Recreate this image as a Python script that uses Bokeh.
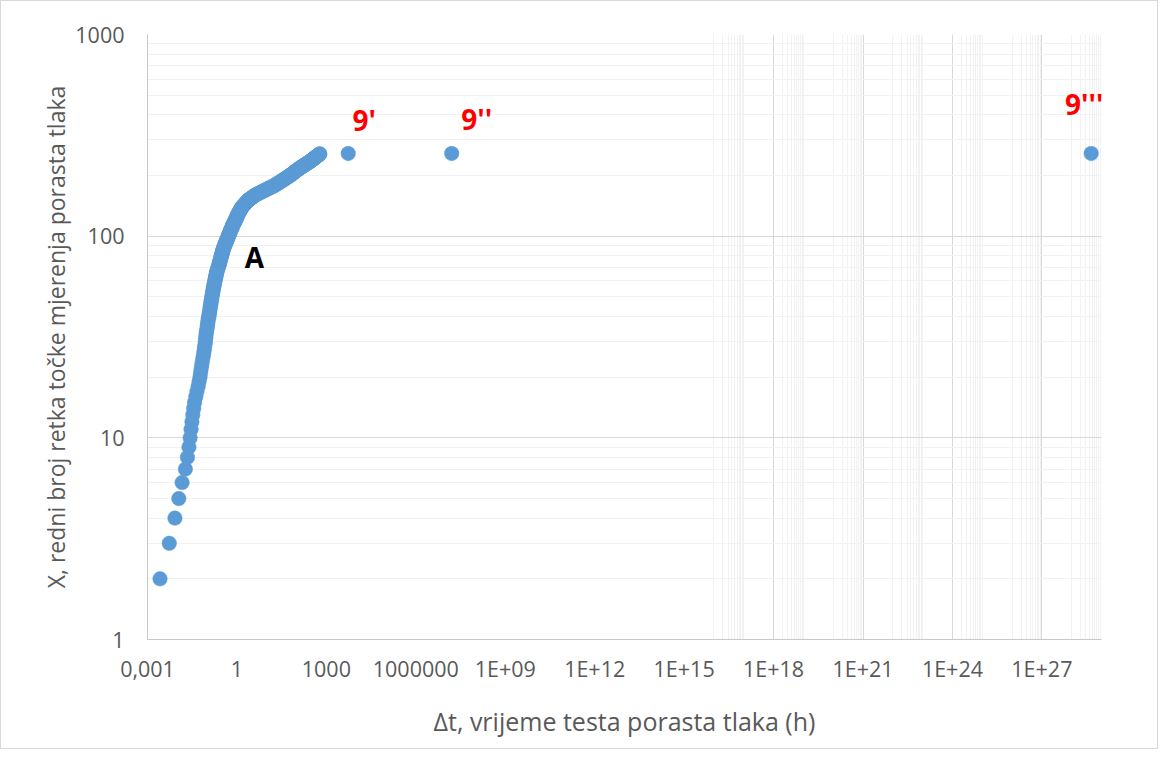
from bokeh.plotting import figure
from bokeh.models import FixedTicker, CustomJSTickFormatter, Range1d, ColumnDataSource
from bokeh.core.properties import value
from bokeh.embed import file_html
from bokeh.resources import INLINE

# ---------------- data ----------------
row_no = [
    2, 3, 4, 5, 6, 7, 8, 9, 10,
    11, 12, 13, 14, 15, 16, 17, 18, 19, 20,
    21, 22, 23, 24, 25, 26, 27, 28, 29, 30,
    31, 32, 33, 34, 35, 36, 37, 38, 39, 40,
    41, 42, 43, 44, 45, 46, 47, 48, 49, 50,
    51, 52, 53, 54, 55, 56, 57, 58, 59, 60,
    61, 62, 63, 64, 65, 66, 67, 68, 69, 70, 71, 72,
    73, 74, 75, 76, 77, 78, 79, 80, 81, 82, 83, 84, 85, 86, 87,
    88, 89, 90, 91, 92, 93, 94, 95, 96, 97,
    98, 99, 100, 101, 102, 103, 104, 105, 106, 107, 108, 109,
    110, 111, 112, 113, 114, 115, 116, 117, 118, 119, 120,
    121, 122, 123, 124, 125, 126, 127, 128, 129,
    130, 131, 132, 133, 134, 135, 136, 137, 138, 139, 140,
    141, 142, 143, 144, 145, 146, 147, 148, 149, 150,
    151, 152, 153, 154, 155, 156, 157, 158, 159, 160,
    161, 162, 163, 164, 165, 166, 167, 168, 169, 170,
    171, 172, 173, 174, 175, 176, 177,
    178, 179, 180, 181, 182, 183,
    184, 185, 186, 187, 188, 189, 190, 191,
    192, 193, 194, 195, 196, 197, 198, 199, 200,
    201, 202, 203, 204, 205, 206, 207, 208, 209, 210, 211, 212, 213,
    214, 215, 216, 217, 218, 219, 220, 221, 222, 223, 224,
    225, 226, 227, 228, 229, 230, 231, 232, 233, 234,
    235, 236, 237, 238, 239, 240, 241, 242, 243, 244, 245,
    246, 247, 248, 249, 250, 251, 252, 253, 254, 255, 256,
]

# log10 of the test time (hours) for each row
log10_dt_h = [
    -2.58, -2.27, -2.08, -1.95, -1.84, -1.73, -1.66, -1.61, -1.57,
    -1.54, -1.51, -1.48, -1.45, -1.42, -1.38, -1.34, -1.30, -1.27, -1.24,
    -1.22, -1.20, -1.18, -1.16, -1.14, -1.12, -1.10, -1.09, -1.07, -1.06,
    -1.05, -1.04, -1.03, -1.02, -1.00, -0.99, -0.98, -0.97, -0.96, -0.94,
    -0.93, -0.92, -0.91, -0.90, -0.89, -0.88, -0.87, -0.86, -0.85, -0.84,
    -0.83, -0.82, -0.81, -0.80, -0.79, -0.78, -0.77, -0.76, -0.75, -0.74,
    -0.73, -0.72, -0.71, -0.70, -0.69, -0.68, -0.67, -0.66, -0.64, -0.63, -0.62, -0.60,
    -0.59, -0.58, -0.57, -0.56, -0.55, -0.54, -0.53, -0.52, -0.51, -0.50, -0.49, -0.48, -0.47, -0.46, -0.45,
    -0.44, -0.42, -0.41, -0.40, -0.38, -0.37, -0.36, -0.35, -0.33, -0.32,
    -0.31, -0.30, -0.29, -0.28, -0.26, -0.25, -0.24, -0.23, -0.22, -0.21, -0.20, -0.18,
    -0.17, -0.16, -0.15, -0.14, -0.13, -0.12, -0.10, -0.09, -0.08, -0.07, -0.05,
    -0.04, -0.03, -0.02, -0.01, 0.00, 0.01, 0.02, 0.03, 0.04,
    0.05, 0.07, 0.08, 0.09, 0.10, 0.12, 0.13, 0.14, 0.15, 0.17, 0.18,
    0.20, 0.22, 0.24, 0.26, 0.27, 0.29, 0.31, 0.33, 0.34, 0.36,
    0.38, 0.41, 0.44, 0.46, 0.49, 0.52, 0.54, 0.57, 0.59, 0.62,
    0.66, 0.69, 0.73, 0.76, 0.80, 0.83, 0.87, 0.90, 0.94, 0.97,
    1.01, 1.04, 1.08, 1.11, 1.15, 1.18, 1.22,
    1.25, 1.27, 1.30, 1.33, 1.35, 1.38,
    1.40, 1.43, 1.45, 1.48, 1.50, 1.53, 1.55, 1.58,
    1.60, 1.62, 1.64, 1.67, 1.69, 1.71, 1.73, 1.76, 1.78,
    1.80, 1.82, 1.84, 1.86, 1.88, 1.90, 1.91, 1.93, 1.95, 1.97, 1.99, 2.00, 2.02,
    2.04, 2.06, 2.08, 2.10, 2.12, 2.14, 2.16, 2.18, 2.20, 2.22, 2.24,
    2.26, 2.28, 2.30, 2.32, 2.34, 2.36, 2.38, 2.40, 2.42, 2.44,
    2.46, 2.47, 2.49, 2.51, 2.52, 2.54, 2.56, 2.57, 2.59, 2.60, 2.62,
    2.63, 2.65, 2.66, 2.68, 2.69, 2.71, 2.72, 2.74, 2.75, 2.77, 2.78,
]

special_labels = ["9'", "9''", "9'''"]
special_dt_h = [5.4e3, 1.6e7, 4.5e28]
special_row = [257, 257, 257]

point_label = "A"
point_label_row = 100

x_ticks = [1e-3, 1, 1e3, 1e6, 1e9, 1e12, 1e15, 1e18, 1e21, 1e24, 1e27]
y_ticks = [1, 10, 100, 1000]

x_title = "\u0394t, vrijeme testa porasta tlaka (h)"
y_title = "X, redni broj retka točke mjerenja porasta tlaka"

# ---------------- styles ----------------
FONT = "Open Sans"
BLUE = "#5b9bd5"
TXT = "#595959"
GRID_MAJ = "#d9d9d9"
GRID_MIN = "#f2f2f2"
special_dx = [16, 25, -7]
special_dy = [-33, -34, -49]
label_dx, label_dy = 26, 21

assert len(row_no) == len(log10_dt_h)
dt_h = [10 ** v for v in log10_dt_h]

p = figure(width=1158, height=749, output_backend="svg", toolbar_location=None,
           x_axis_type="log", y_axis_type="log",
           x_range=Range1d(1e-3, 1e29), y_range=Range1d(1, 1000),
           min_border_left=146, min_border_right=58,
           min_border_top=33, min_border_bottom=111)
p.outline_line_color = None
p.background_fill_color = "white"
p.border_fill_color = "white"
p.styles = {"border": "1px solid #d9d9d9"}

# grids (Excel-like)
vminor = []
for d in [16, 18, 20, 22, 24, 26, 28]:
    for m in range(1, 11):
        vminor.append(m * 10.0 ** d)
p.xgrid.ticker = FixedTicker(ticks=[1e18, 1e21, 1e24, 1e27], minor_ticks=vminor)
p.xgrid.grid_line_color = GRID_MAJ
p.xgrid.minor_grid_line_color = GRID_MIN
hminor = [m * 10.0 ** k for k in range(0, 3) for m in range(2, 10)]
p.ygrid.ticker = FixedTicker(ticks=[10, 100, 1000], minor_ticks=hminor)
p.ygrid.grid_line_color = GRID_MAJ
p.ygrid.minor_grid_line_color = GRID_MIN

# axes
p.xaxis.ticker = FixedTicker(ticks=x_ticks)
p.xaxis.formatter = CustomJSTickFormatter(code="""
const e = Math.round(Math.log10(tick));
if (e < 0) return "0," + "0".repeat(-e - 1) + "1";
if (e <= 6) return Math.round(tick).toString();
return "1E+" + (e < 10 ? "0" + e : "" + e);
""")
p.yaxis.ticker = FixedTicker(ticks=y_ticks)
p.yaxis.formatter = CustomJSTickFormatter(code="return Math.round(tick).toString();")

for ax in (p.xaxis[0], p.yaxis[0]):
    ax.axis_line_color = "#c8c8c8"
    ax.major_tick_line_color = None
    ax.minor_tick_line_color = None
    ax.major_tick_out = 0
    ax.major_tick_in = 0
    ax.minor_tick_out = 0
    ax.minor_tick_in = 0
    ax.major_label_text_font = FONT
    ax.major_label_text_font_size = "21.5px"
    ax.major_label_text_color = TXT
    ax.axis_label_text_font = FONT
    ax.axis_label_text_color = TXT
    ax.axis_label_text_font_style = "normal"

p.xaxis.axis_label = x_title
p.yaxis.axis_label = y_title
p.xaxis.axis_label_text_font_size = "25px"
p.yaxis.axis_label_text_font_size = "23px"
p.xaxis.major_label_standoff = 14
p.xaxis.axis_label_standoff = 18
p.yaxis.major_label_standoff = 23
p.yaxis.axis_label_standoff = 0

# data points
src = ColumnDataSource(dict(x=dt_h, y=row_no))
p.scatter("x", "y", source=src, size=14.5, marker="circle",
          fill_color=BLUE, line_color=BLUE, line_width=0.5)
ssrc = ColumnDataSource(dict(x=special_dt_h, y=special_row, label=special_labels,
                             dx=special_dx, dy=special_dy))
p.scatter("x", "y", source=ssrc, size=14.5, marker="circle",
          fill_color=BLUE, line_color=BLUE, line_width=0.5)

# labels
p.text("x", "y", text="label", source=ssrc, x_offset="dx", y_offset="dy",
       text_font=value(FONT), text_font_style="bold", text_font_size="28px",
       text_color="#ff0000", text_align="center", text_baseline="middle")
ai = row_no.index(point_label_row)
asrc = ColumnDataSource(dict(x=[dt_h[ai]], y=[row_no[ai]], label=[point_label]))
p.text("x", "y", text="label", source=asrc, x_offset=label_dx, y_offset=label_dy,
       text_font=value(FONT), text_font_style="bold", text_font_size="28px",
       text_color="black", text_align="center", text_baseline="middle")

open("out.html", "w").write(file_html(p, INLINE))
